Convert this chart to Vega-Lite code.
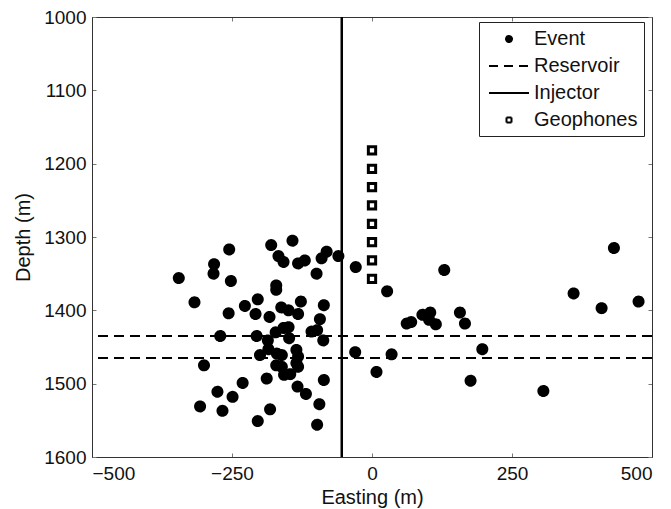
{
  "$schema": "https://vega.github.io/schema/vega-lite/v6.json",
  "width": 560,
  "height": 440,
  "autosize": {"type": "none"},
  "padding": {"left": 92, "top": 17, "right": 19, "bottom": 52},
  "background": "white",
  "config": {
    "view": {"stroke": "#333", "strokeWidth": 1},
    "font": "Liberation Sans",
    "axis": {
      "labelFont": "Liberation Sans", "titleFont": "Liberation Sans",
      "labelFontSize": 19, "titleFontSize": 20, "titleFontWeight": "normal",
      "labelColor": "#111", "titleColor": "#111",
      "domainColor": "#333", "tickColor": "#777", "tickSize": -4, "grid": false
    },
    "legend": {
      "orient": "none", "legendX": 387, "legendY": 5,
      "padding": 6, "strokeColor": "#222", "fillColor": "white", "strokeWidth": 1,
      "symbolSize": 400, "symbolStrokeColor": "black", "symbolStrokeWidth": 2,
      "labelFont": "Liberation Sans", "labelFontSize": 20, "labelColor": "#111",
      "labelOffset": 14, "rowPadding": 6, "symbolOffset": 13
    }
  },
  "datasets": {
    "events": [
      {"easting": -345, "depth": 1356, "type": "Event"},
      {"easting": -317, "depth": 1389, "type": "Event"},
      {"easting": -283, "depth": 1350, "type": "Event"},
      {"easting": -282, "depth": 1337, "type": "Event"},
      {"easting": -255, "depth": 1317, "type": "Event"},
      {"easting": -252, "depth": 1360, "type": "Event"},
      {"easting": -256, "depth": 1404, "type": "Event"},
      {"easting": -271, "depth": 1435, "type": "Event"},
      {"easting": -300, "depth": 1475, "type": "Event"},
      {"easting": -227, "depth": 1394, "type": "Event"},
      {"easting": -204, "depth": 1385, "type": "Event"},
      {"easting": -208, "depth": 1405, "type": "Event"},
      {"easting": -206, "depth": 1435, "type": "Event"},
      {"easting": -183, "depth": 1409, "type": "Event"},
      {"easting": -180, "depth": 1311, "type": "Event"},
      {"easting": -142, "depth": 1305, "type": "Event"},
      {"easting": -167, "depth": 1326, "type": "Event"},
      {"easting": -158, "depth": 1334, "type": "Event"},
      {"easting": -132, "depth": 1336, "type": "Event"},
      {"easting": -120, "depth": 1332, "type": "Event"},
      {"easting": -99, "depth": 1350, "type": "Event"},
      {"easting": -90, "depth": 1329, "type": "Event"},
      {"easting": -81, "depth": 1320, "type": "Event"},
      {"easting": -60, "depth": 1326, "type": "Event"},
      {"easting": -171, "depth": 1366, "type": "Event"},
      {"easting": -171, "depth": 1372, "type": "Event"},
      {"easting": -162, "depth": 1396, "type": "Event"},
      {"easting": -149, "depth": 1400, "type": "Event"},
      {"easting": -132, "depth": 1405, "type": "Event"},
      {"easting": -127, "depth": 1388, "type": "Event"},
      {"easting": -86, "depth": 1393, "type": "Event"},
      {"easting": -93, "depth": 1412, "type": "Event"},
      {"easting": -108, "depth": 1429, "type": "Event"},
      {"easting": -98, "depth": 1427, "type": "Event"},
      {"easting": -87, "depth": 1441, "type": "Event"},
      {"easting": -172, "depth": 1430, "type": "Event"},
      {"easting": -158, "depth": 1424, "type": "Event"},
      {"easting": -149, "depth": 1423, "type": "Event"},
      {"easting": -148, "depth": 1438, "type": "Event"},
      {"easting": -186, "depth": 1441, "type": "Event"},
      {"easting": -185, "depth": 1453, "type": "Event"},
      {"easting": -200, "depth": 1461, "type": "Event"},
      {"easting": -170, "depth": 1459, "type": "Event"},
      {"easting": -161, "depth": 1461, "type": "Event"},
      {"easting": -135, "depth": 1454, "type": "Event"},
      {"easting": -132, "depth": 1463, "type": "Event"},
      {"easting": -171, "depth": 1475, "type": "Event"},
      {"easting": -161, "depth": 1477, "type": "Event"},
      {"easting": -135, "depth": 1472, "type": "Event"},
      {"easting": -132, "depth": 1477, "type": "Event"},
      {"easting": -157, "depth": 1488, "type": "Event"},
      {"easting": -146, "depth": 1487, "type": "Event"},
      {"easting": -231, "depth": 1499, "type": "Event"},
      {"easting": -188, "depth": 1493, "type": "Event"},
      {"easting": -86, "depth": 1495, "type": "Event"},
      {"easting": -133, "depth": 1504, "type": "Event"},
      {"easting": -118, "depth": 1514, "type": "Event"},
      {"easting": -276, "depth": 1511, "type": "Event"},
      {"easting": -249, "depth": 1518, "type": "Event"},
      {"easting": -307, "depth": 1531, "type": "Event"},
      {"easting": -267, "depth": 1537, "type": "Event"},
      {"easting": -182, "depth": 1535, "type": "Event"},
      {"easting": -94, "depth": 1528, "type": "Event"},
      {"easting": -204, "depth": 1551, "type": "Event"},
      {"easting": -98, "depth": 1556, "type": "Event"},
      {"easting": -29, "depth": 1341, "type": "Event"},
      {"easting": -30, "depth": 1457, "type": "Event"},
      {"easting": 8, "depth": 1484, "type": "Event"},
      {"easting": 27, "depth": 1374, "type": "Event"},
      {"easting": 62, "depth": 1418, "type": "Event"},
      {"easting": 70, "depth": 1416, "type": "Event"},
      {"easting": 90, "depth": 1406, "type": "Event"},
      {"easting": 104, "depth": 1403, "type": "Event"},
      {"easting": 102, "depth": 1413, "type": "Event"},
      {"easting": 114, "depth": 1419, "type": "Event"},
      {"easting": 129, "depth": 1345, "type": "Event"},
      {"easting": 157, "depth": 1403, "type": "Event"},
      {"easting": 166, "depth": 1418, "type": "Event"},
      {"easting": 35, "depth": 1460, "type": "Event"},
      {"easting": 197, "depth": 1453, "type": "Event"},
      {"easting": 176, "depth": 1496, "type": "Event"},
      {"easting": 306, "depth": 1510, "type": "Event"},
      {"easting": 360, "depth": 1377, "type": "Event"},
      {"easting": 410, "depth": 1397, "type": "Event"},
      {"easting": 432, "depth": 1315, "type": "Event"},
      {"easting": 476, "depth": 1388, "type": "Event"}
    ],
    "geophones": [
      {"easting": 0, "depth": 1182, "type": "Geophones"},
      {"easting": 0, "depth": 1207, "type": "Geophones"},
      {"easting": 0, "depth": 1232, "type": "Geophones"},
      {"easting": 0, "depth": 1257, "type": "Geophones"},
      {"easting": 0, "depth": 1282, "type": "Geophones"},
      {"easting": 0, "depth": 1307, "type": "Geophones"},
      {"easting": 0, "depth": 1332, "type": "Geophones"},
      {"easting": 0, "depth": 1357, "type": "Geophones"}
    ],
    "reservoir": [{"depth": 1435}, {"depth": 1465}],
    "injector": [{"easting": -54}]
  },
  "resolve": {"axis": {"x": "independent", "y": "independent"}},
  "layer": [
    {
      "data": {"name": "reservoir"},
      "mark": {"type": "rule", "strokeDash": [10, 6], "strokeWidth": 2, "color": "black"},
      "encoding": {
        "y": {"field": "depth", "type": "quantitative", "scale": {"domain": [1000, 1600], "reverse": true, "nice": false, "zero": false}, "axis": null}
      }
    },
    {
      "data": {"name": "injector"},
      "mark": {"type": "rule", "strokeWidth": 2.5, "color": "black"},
      "encoding": {
        "x": {"field": "easting", "type": "quantitative", "scale": {"domain": [-500, 500], "nice": false, "zero": false}, "axis": null}
      }
    },
    {
      "data": {"name": "events"},
      "mark": {"type": "point", "strokeWidth": 2, "opacity": 1, "size": 1111},
      "encoding": {
        "x": {"field": "easting", "type": "quantitative", "scale": {"domain": [-500, 500], "nice": false, "zero": false},
              "axis": {"values": [-500, -250, 0, 250, 500], "title": "Easting (m)", "titleX": 280, "titleY": 46, "titleBaseline": "alphabetic", "labelPadding": 11}},
        "y": {"field": "depth", "type": "quantitative", "scale": {"domain": [1000, 1600], "reverse": true, "nice": false, "zero": false},
              "axis": {"values": [1000, 1100, 1200, 1300, 1400, 1500, 1600], "format": "d", "title": "Depth (m)", "titleX": -63, "titleY": 220, "titleAngle": 270, "titleAlign": "center", "titleBaseline": "alphabetic", "labelPadding": 10}},
        "shape": {"field": "type", "type": "nominal", "sort": null,
                  "scale": {"domain": ["Event", "Reservoir", "Injector", "Geophones"], "range": ["M-0.3,0A0.3,0.3 0 1,0 0.3,0A0.3,0.3 0 1,0 -0.3,0Z", "M-2,0H2", "M-2,0H2", "M-0.25,-0.25H0.25V0.25H-0.25Z"]},
                  "legend": {"title": null}},
        "fill": {"field": "type", "type": "nominal", "sort": null,
                 "scale": {"domain": ["Event", "Reservoir", "Injector", "Geophones"], "range": ["black", "transparent", "transparent", "white"]},
                 "legend": {"title": null}},
        "stroke": {"field": "type", "type": "nominal", "sort": null,
                   "scale": {"domain": ["Event", "Reservoir", "Injector", "Geophones"], "range": ["black", "black", "black", "black"]},
                   "legend": {"title": null}},
        "strokeDash": {"field": "type", "type": "nominal", "sort": null,
                       "scale": {"domain": ["Event", "Reservoir", "Injector", "Geophones"], "range": [[1, 0], [9, 6], [1, 0], [1, 0]]},
                       "legend": {"title": null}}
      }
    },
    {
      "data": {"name": "geophones"},
      "mark": {"type": "point", "strokeWidth": 3, "opacity": 1, "size": 853},
      "encoding": {
        "x": {"field": "easting", "type": "quantitative", "scale": {"domain": [-500, 500], "nice": false, "zero": false},
              "axis": {"orient": "top", "values": [-500, -250, 0, 250, 500], "labels": false, "title": null}},
        "y": {"field": "depth", "type": "quantitative", "scale": {"domain": [1000, 1600], "reverse": true, "nice": false, "zero": false},
              "axis": {"orient": "right", "values": [1000, 1100, 1200, 1300, 1400, 1500, 1600], "labels": false, "title": null}},
        "shape": {"field": "type", "type": "nominal", "sort": null,
                  "scale": {"domain": ["Event", "Reservoir", "Injector", "Geophones"], "range": ["M-0.3,0A0.3,0.3 0 1,0 0.3,0A0.3,0.3 0 1,0 -0.3,0Z", "M-2,0H2", "M-2,0H2", "M-0.25,-0.25H0.25V0.25H-0.25Z"]},
                  "legend": {"title": null}},
        "fill": {"field": "type", "type": "nominal", "sort": null,
                 "scale": {"domain": ["Event", "Reservoir", "Injector", "Geophones"], "range": ["black", "transparent", "transparent", "white"]},
                 "legend": {"title": null}},
        "stroke": {"field": "type", "type": "nominal", "sort": null,
                   "scale": {"domain": ["Event", "Reservoir", "Injector", "Geophones"], "range": ["black", "black", "black", "black"]},
                   "legend": {"title": null}},
        "strokeDash": {"field": "type", "type": "nominal", "sort": null,
                       "scale": {"domain": ["Event", "Reservoir", "Injector", "Geophones"], "range": [[1, 0], [9, 6], [1, 0], [1, 0]]},
                       "legend": {"title": null}}
      }
    }
  ]
}
